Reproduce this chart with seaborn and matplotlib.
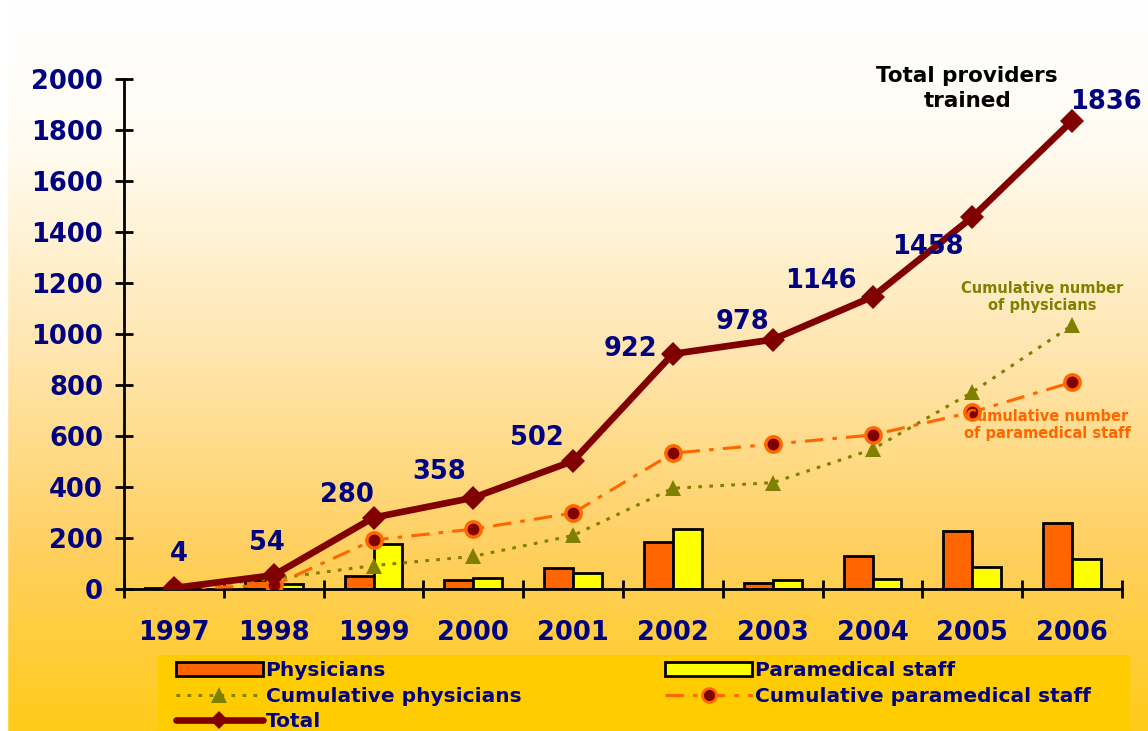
import numpy as np
import pandas as pd
import matplotlib
matplotlib.use("Agg")
import matplotlib.pyplot as plt
from matplotlib.patches import Rectangle, Patch
from matplotlib.lines import Line2D
import seaborn as sns

# ---------------- data ----------------
years = ["1997", "1998", "1999", "2000", "2001", "2002", "2003", "2004", "2005", "2006"]
physicians = [2, 36, 50, 35, 82, 184, 22, 130, 226, 260]
paramedical = [2, 18, 176, 43, 62, 236, 34, 38, 86, 118]
cum_physicians = [2, 40, 92, 128, 210, 395, 417, 548, 772, 1034]
cum_paramedical = [2, 14, 192, 235, 298, 533, 568, 604, 694, 811]
total = [4, 54, 280, 358, 502, 922, 978, 1146, 1458, 1836]
yticks = [0, 200, 400, 600, 800, 1000, 1200, 1400, 1600, 1800, 2000]

NAVY = "#000080"
ORANGE = "#FF6600"
YELLOW = "#FFFF00"
OLIVE = "#808000"
MAROON = "#800000"

sns.set_style("white")
plt.rcParams["font.family"] = ["DejaVu Sans"]
plt.rcParams["font.weight"] = "bold"

W, H = 1148, 731
fig = plt.figure(figsize=(W / 100, H / 100), dpi=100)

# background gradient
bg = fig.add_axes([0, 0, 1, 1], zorder=-10)
ypx = np.arange(H)
stops_y = [0, 60, 150, 350, 550, 731]
stops_g = [255, 254, 251, 230, 208, 203]
stops_b = [255, 252, 240, 176, 96, 25]
g = np.interp(ypx, stops_y, stops_g) / 255
b = np.interp(ypx, stops_y, stops_b) / 255
img = np.zeros((H, 1, 3))
img[:, 0, 0] = 1.0
img[:, 0, 1] = g
img[:, 0, 2] = b
bg.imshow(img, aspect="auto", extent=[0, 1, 0, 1])
bg.add_patch(Rectangle((0, 0), 7 / W, 1, color="white"))
bg.set_xlim(0, 1); bg.set_ylim(0, 1)
bg.axis("off")

# legend box
fig.patches.append(Rectangle((158 / W, 0), 972 / W, 76 / H, transform=fig.transFigure,
                             facecolor="#FFCC00", edgecolor="none", zorder=0))

ax = fig.add_axes([124 / W, 1 - 589 / H, (1122 - 124) / W, (589 - 79) / H])
ax.set_facecolor("none")

df = pd.DataFrame({
    "year": years * 2,
    "count": physicians + paramedical,
    "group": ["Physicians"] * len(years) + ["Paramedical staff"] * len(years),
})
sns.barplot(data=df, x="year", y="count", hue="group", order=years,
            hue_order=["Physicians", "Paramedical staff"], palette=[ORANGE, YELLOW],
            width=0.58, edgecolor="black", linewidth=2, saturation=1,
            legend=False, ax=ax, zorder=2)

OLIVE_DASH = (0, (1.2, 2.4))
ORANGE_DASH = (0, (6, 3, 1.5, 3))
sns.pointplot(x=years, y=cum_physicians, order=years, color=OLIVE, errorbar=None,
              marker="^", linestyle=OLIVE_DASH, linewidth=2.2, markersize=12,
              markeredgewidth=0, ax=ax, zorder=3)
sns.pointplot(x=years, y=cum_paramedical, order=years, color=ORANGE, errorbar=None,
              marker="o", linestyle=ORANGE_DASH, linewidth=2.2, markersize=11,
              markerfacecolor=MAROON, markeredgecolor=ORANGE, markeredgewidth=2.5,
              ax=ax, zorder=4)
sns.pointplot(x=years, y=total, order=years, color=MAROON, errorbar=None,
              marker="D", linestyle="-", linewidth=4.8, markersize=12,
              markeredgewidth=0, ax=ax, zorder=5)

for ln in ax.lines:
    c = matplotlib.colors.to_hex(ln.get_color())
    if c.lower() == ORANGE.lower():
        ln.set_markerfacecolor(MAROON)
        ln.set_markeredgecolor(ORANGE)

# data labels
offsets = [(5, 34), (-7, 32), (-27, 23), (-34, 26), (-36, 23), (-42, 5),
           (-30, 18), (-52, 16), (-44, -30), (34, 19)]
for i, (v, off) in enumerate(zip(total, offsets)):
    ax.annotate(str(v), xy=(i, v), xytext=off, textcoords="offset pixels",
                ha="center", va="center", color=NAVY, fontsize=18.5,
                fontweight="bold", annotation_clip=False, zorder=6)

ax.text(7.95, 1962, "Total providers\ntrained", ha="center", va="center",
        fontsize=15.5, fontweight="bold", color="black", clip_on=False,
        linespacing=1.3)
ax.text(8.70, 1145, "Cumulative number\nof physicians", ha="center", va="center",
        fontsize=10.5, fontweight="bold", color=OLIVE, clip_on=False)
ax.text(8.75, 643, "Cumulative number\nof paramedical staff", ha="center", va="center",
        fontsize=10.5, fontweight="bold", color=ORANGE, clip_on=False, zorder=6)

# axes styling
ax.set_xlim(-0.5, len(years) - 0.5)
ax.set_ylim(0, 2000)
ax.set_yticks(yticks)
ax.set_yticklabels([str(t) for t in yticks])
ax.set_xticks(range(len(years)))
ax.set_xticklabels(years)
ax.set_xticks(np.arange(-0.5, len(years), 1.0), minor=True)
ax.tick_params(axis="y", which="major", left=True, direction="inout", length=13, width=2,
               color="black", labelsize=18.5, labelcolor=NAVY, pad=8.5)
ax.tick_params(axis="x", which="major", bottom=True, length=0, labelsize=18.5,
               labelcolor=NAVY, pad=22)
ax.tick_params(axis="x", which="minor", bottom=True, direction="inout", length=13,
               width=2, color="black")
for lab in ax.get_xticklabels() + ax.get_yticklabels():
    lab.set_fontweight("bold")
ax.set_xlabel("")
ax.set_ylabel("")
for s in ["top", "right"]:
    ax.spines[s].set_visible(False)
for s in ["left", "bottom"]:
    ax.spines[s].set_color("black")
    ax.spines[s].set_linewidth(2)
ax.grid(False)

# legend
handles = [
    Patch(facecolor=ORANGE, edgecolor="black", linewidth=2, label="Physicians"),
    Line2D([], [], color=OLIVE, linestyle=OLIVE_DASH, linewidth=2.2, marker="^",
           markersize=12, markeredgewidth=0, label="Cumulative physicians"),
    Line2D([], [], color=MAROON, linewidth=4.8, marker="D", markersize=9,
           markeredgewidth=0, label="Total"),
    Patch(facecolor=YELLOW, edgecolor="black", linewidth=2, label="Paramedical staff"),
    Line2D([], [], color=ORANGE, linestyle=ORANGE_DASH, linewidth=2.2, marker="o",
           markersize=10, markerfacecolor=MAROON, markeredgecolor=ORANGE,
           markeredgewidth=2, label="Cumulative paramedical staff"),
]
leg = fig.legend(handles=handles, loc="upper left", bbox_to_anchor=(176 / W, 1 - 661 / H),
                 bbox_transform=fig.transFigure, ncol=2, frameon=False,
                 prop={"size": 14.5, "weight": "bold"}, handlelength=4.3,
                 handletextpad=0.15, labelspacing=0.33, columnspacing=7.15,
                 borderpad=0, borderaxespad=0, numpoints=1)
for t in leg.get_texts():
    t.set_color(NAVY)

fig.savefig("out.png", dpi=100)
